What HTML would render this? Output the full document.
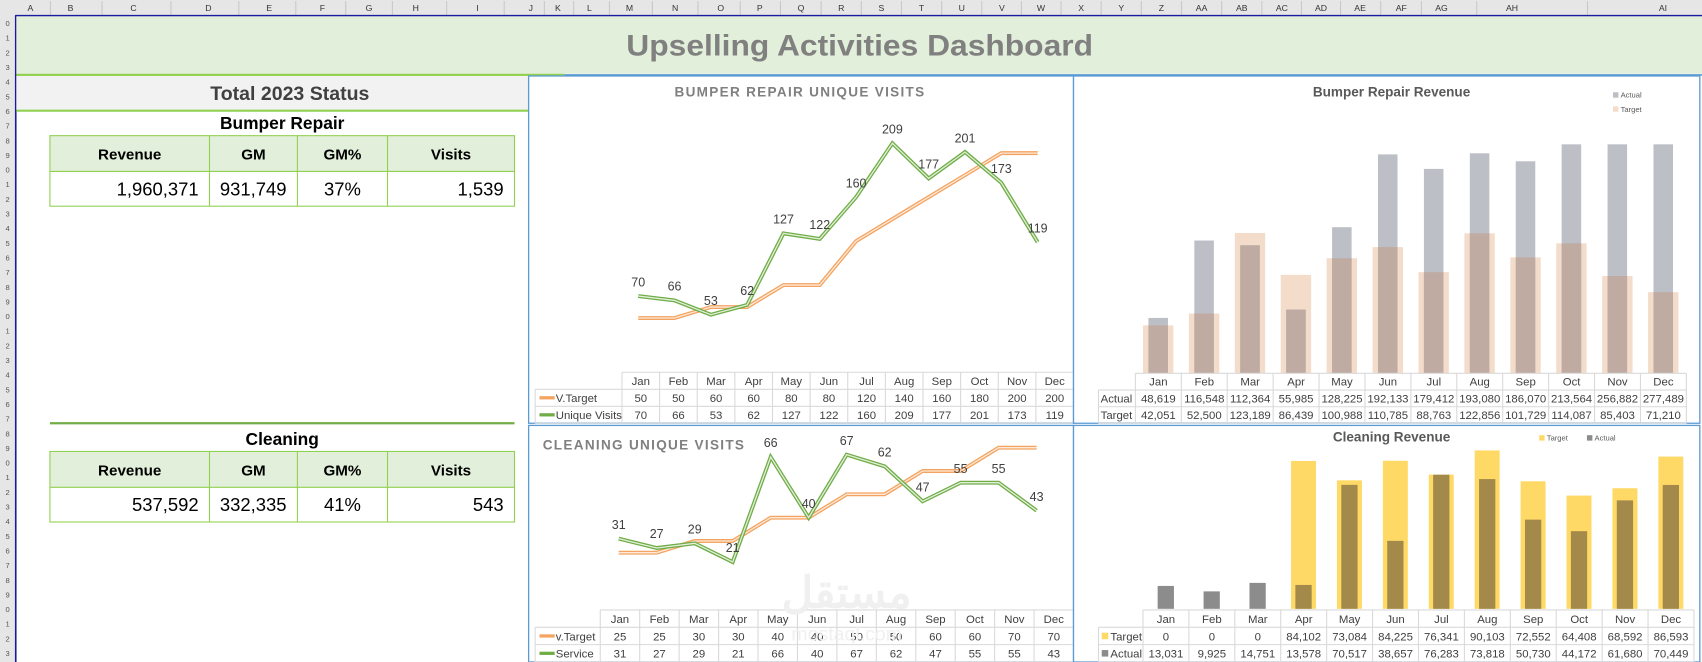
<!DOCTYPE html>
<html><head><meta charset="utf-8">
<style>
html,body{margin:0;padding:0;background:#fff;overflow:hidden;width:1702px;height:662px}
#stage{position:absolute;left:0;top:0;width:1568px;height:610px;transform:scale(1.08546,1.08525);transform-origin:0 0;font-family:"Liberation Sans",sans-serif}
.abs{position:absolute}
svg text{font-family:"Liberation Sans",sans-serif}
</style></head>
<body>
<div id="stage">
<svg id="sv" width="1568" height="610" class="abs" style="left:0;top:0"></svg>
</div>
<script>
// ---- Data ----
const months = ["Jan","Feb","Mar","Apr","May","Jun","Jul","Aug","Sep","Oct","Nov","Dec"];
const brVisitTarget = [50,50,60,60,80,80,120,140,160,180,200,200];
const brVisits = [70,66,53,62,127,122,160,209,177,201,173,119];
const clVisitTarget = [25,25,30,30,40,40,50,50,60,60,70,70];
const clVisits = [31,27,29,21,66,40,67,62,47,55,55,43];
const brRevActual = [48619,116548,112364,55985,128225,192133,179412,193080,186070,213564,256882,277489];
const brRevTarget = [42051,52500,123189,86439,100988,110785,88763,122856,101729,114087,85403,71210];
const clRevTarget = [0,0,0,84102,73084,84225,76341,90103,72552,64408,68592,86593];
const clRevActual = [13031,9925,14751,13578,70517,38657,76283,73818,50730,44172,61680,70449];
const colLetters = ["A","B","C","D","E","F","G","H","I","J","K","L","M","N","O","P","Q","R","S","T","U","V","W","X","Y","Z","AA","AB","AC","AD","AE","AF","AG","AH","AI"];

const NS="http://www.w3.org/2000/svg";
const sv=document.getElementById('sv');
function mk(tag,attrs,parent,name,inter){const e=document.createElementNS(NS,tag);for(const k in attrs)e.setAttribute(k,attrs[k]);(parent||sv).appendChild(e);


return e;}
function tx(x,y,s,opt,parent,name){opt=opt||{};const e=mk('text',{x:x,y:y,'font-size':opt.size||11,fill:opt.fill||'#404040','text-anchor':opt.anchor||'middle','font-weight':opt.weight||'normal','font-family':opt.family||'"Liberation Sans",sans-serif'},parent,name||'label');if(opt.ls)e.setAttribute('letter-spacing',opt.ls);e.textContent=s;return e;}
function fmt(n){return n.toLocaleString('en-US');}

// ---- Sheet headers ----
mk('rect',{x:0,y:0,width:1568,height:14,fill:'#e6e6e6'},sv,'column-header-bar');
mk('rect',{x:0,y:0,width:14,height:610,fill:'#e6e6e6'},sv,'row-header-bar');
const colCenters=[28,65,123,192,248,297,340,383,440,489,514,543,580,622,664,700,738,775,812,849,886,923,959,996,1033,1070,1107,1144,1181,1217,1253,1291,1328,1393,1532];
for(let i=0;i<colLetters.length;i++){
  tx(colCenters[i],10,colLetters[i],{size:8,fill:'#333'},sv,'column-header-'+colLetters[i]);
  if(i<colLetters.length-1){const b=(colCenters[i]+colCenters[i+1])/2;mk('line',{x1:b,y1:1,x2:b,y2:14,stroke:'#c8c8c8'},sv,'column-divider');}
}
for(let r=0;r<44;r++){const y=24+r*13.5;tx(7,y,String((r%10)),{size:7,fill:'#555'},sv,'row-number');}
mk('line',{x1:14,y1:14.5,x2:1568,y2:14.5,stroke:'#1a1aa0','stroke-width':1.5},sv,'selection-border-top');
mk('line',{x1:14.5,y1:14,x2:14.5,y2:610,stroke:'#1a1aa0','stroke-width':1.5},sv,'selection-border-left');

// ---- Title band ----
mk('rect',{x:15,y:15,width:1553,height:53,fill:'#e2efda'},sv,'title-band');
mk('line',{x1:15,y1:69,x2:520,y2:69,stroke:'#92d050','stroke-width':2},sv,'title-underline');
mk('line',{x1:520,y1:69,x2:1568,y2:69,stroke:'#5b9bd5','stroke-width':1.5},sv,'title-underline-blue');
const tt=tx(792,51,'Upselling Activities Dashboard',{size:27,weight:'bold',fill:'#808080'},sv,'dashboard-title');
tt.setAttribute('textLength','430');tt.setAttribute('lengthAdjust','spacingAndGlyphs');

// ---- Left panel ----
mk('rect',{x:15,y:70,width:472,height:31,fill:'#f2f2f2'},sv,'status-band');
mk('line',{x1:15,y1:102,x2:487,y2:102,stroke:'#92d050','stroke-width':2},sv,'status-underline');
tx(267,92,'Total 2023 Status',{size:18,weight:'bold',fill:'#404040',family:'"Liberation Serif",serif'},sv,'status-title');

function kpiTable(y0,title,vals,name){
  tx(260,y0-6,title,{size:16,weight:'bold',fill:'#000'},sv,name+'-title');
  const xs=[46,193,274,357,474];const heads=['Revenue','GM','GM%','Visits'];
  mk('rect',{x:46,y:y0,width:428,height:33,fill:'#e2efda'},sv,name+'-header-row');
  mk('rect',{x:46,y:y0,width:428,height:65,fill:'none',stroke:'#92d050','stroke-width':1},sv,name+'-table-border');
  mk('line',{x1:46,y1:y0+33,x2:474,y2:y0+33,stroke:'#92d050'},sv,name+'-row-divider');
  for(let i=0;i<4;i++){
    if(i>0)mk('line',{x1:xs[i],y1:y0,x2:xs[i],y2:y0+65,stroke:'#92d050'},sv,name+'-col-divider');
    tx((xs[i]+xs[i+1])/2,y0+22,heads[i],{size:14,weight:'bold',fill:'#000'},sv,name+'-header-'+heads[i].toLowerCase().replace('%','-pct'));
    const anchor=i==2?'middle':'end';const x=i==2?(xs[i]+xs[i+1])/2:xs[i+1]-10;
    tx(x,y0+55,vals[i],{size:17,fill:'#000',anchor:anchor},sv,name+'-value-'+heads[i].toLowerCase().replace('%','-pct'));
  }
}
kpiTable(125,'Bumper Repair',['1,960,371','931,749','37%','1,539'],'bumper-kpi');
mk('line',{x1:46,y1:390,x2:474,y2:390,stroke:'#70ad47','stroke-width':2},sv,'cleaning-separator');
kpiTable(416,'Cleaning',['537,592','332,335','41%','543'],'cleaning-kpi');

// ---- Line charts ----
function lineChart(o){
  const g=mk('g',{},sv,o.name);
  mk('rect',{x:o.x0,y:o.y0,width:o.w,height:o.h,fill:'#fff',stroke:'#5b9bd5','stroke-width':1.2},g,o.name+'-frame');
  tx(o.titleX,o.titleY,o.title,{size:12.5,weight:'bold',fill:'#808080',anchor:o.titleAnchor,ls:'1.2'},g,o.name+'-title');
  const X=i=>o.px0+i*o.pstep;const Y=v=>o.base-v*o.slope;
  function series(vals,outer,inner,nm){
    const d=vals.map((v,i)=>(i?'L':'M')+X(i)+','+Y(v)).join(' ');
    mk('path',{d:d,fill:'none',stroke:outer,'stroke-width':3.6,'stroke-linejoin':'miter'},g,nm+'-line');
    mk('path',{d:d,fill:'none',stroke:inner,'stroke-width':1.2},g,nm+'-line-inner');
  }
  series(o.t,'#f4a460','#fde9d9',o.name+'-target');
  series(o.a,'#70ad47','#e2efda',o.name+'-actual');
  o.a.forEach((v,i)=>tx(X(i),Y(v)-9,String(v),{size:11.5,fill:'#404040'},g,o.name+'-data-label'));
  const tx0=o.tabX, cw=(o.x0+o.w-o.tabX)/12, ty=o.tabY, rh=o.rowH;
  const grid='#d9d9d9';
  mk('line',{x1:tx0,y1:ty,x2:o.x0+o.w,y2:ty,stroke:grid},g,'table-grid');
  for(let r=1;r<=3;r++)mk('line',{x1:o.x0+6,y1:ty+r*rh,x2:o.x0+o.w,y2:ty+r*rh,stroke:grid},g,'table-grid');
  mk('line',{x1:o.x0+6,y1:ty+rh,x2:o.x0+6,y2:ty+3*rh,stroke:grid},g,'table-grid');
  for(let c=0;c<=12;c++)mk('line',{x1:tx0+c*cw,y1:ty,x2:tx0+c*cw,y2:ty+3*rh,stroke:grid},g,'table-grid');
  months.forEach((m,i)=>{
    tx(tx0+(i+.5)*cw,ty+rh-4,m,{size:10.5},g,o.name+'-month-'+m.toLowerCase());
    tx(tx0+(i+.5)*cw,ty+2*rh-4,String(o.t[i]),{size:10.5},g,o.name+'-target-value');
    tx(tx0+(i+.5)*cw,ty+3*rh-4,String(o.a[i]),{size:10.5},g,o.name+'-actual-value');
  });
  const lx=o.x0+10;
  mk('line',{x1:lx,y1:ty+1.5*rh,x2:lx+14,y2:ty+1.5*rh,stroke:'#f4a460','stroke-width':3},g,o.name+'-legend-target-key');
  mk('line',{x1:lx,y1:ty+2.5*rh,x2:lx+14,y2:ty+2.5*rh,stroke:'#70ad47','stroke-width':3},g,o.name+'-legend-actual-key');
  tx(lx+15,ty+2*rh-4,o.tLabel,{size:10.5,anchor:'start'},g,o.name+'-legend-target');
  tx(lx+15,ty+3*rh-4,o.aLabel,{size:10.5,anchor:'start'},g,o.name+'-legend-actual');
}
lineChart({name:'bumper-visits-chart',x0:487,y0:70,w:502,h:320,title:'BUMPER REPAIR UNIQUE VISITS',titleX:737,titleY:89,titleAnchor:'middle',
  px0:588,pstep:33.45,base:343.7,slope:1.013,t:brVisitTarget,a:brVisits,tabX:573,tabY:343,rowH:15.7,tLabel:'V.Target',aLabel:'Unique Visits'});
lineChart({name:'cleaning-visits-chart',x0:487,y0:392,w:502,h:218,title:'CLEANING UNIQUE VISITS',titleX:500,titleY:414,titleAnchor:'start',
  px0:570,pstep:35,base:563,slope:2.15,t:clVisitTarget,a:clVisits,tabX:553,tabY:562,rowH:16,tLabel:'v.Target',aLabel:'Service'});
tx(780,560,'مستقل',{size:40,weight:'bold',fill:'#f0f0f0',family:'"DejaVu Sans",sans-serif'},sv,'watermark');
tx(780,590,'mostaql.com',{size:18,fill:'#f0f0f0'},sv,'watermark-url');

// ---- Bar charts ----
function barChart(o){
  const g=mk('g',{},sv,o.name);
  mk('rect',{x:o.x0,y:o.y0,width:o.w,height:o.h,fill:'#fff',stroke:'#5b9bd5','stroke-width':1.2},g,o.name+'-frame');
  tx(1282,o.titleY,o.title,{size:12.5,weight:'bold',fill:'#595959'},g,o.name+'-title');
  const X=i=>o.px0+i*o.pstep;const Y=v=>Math.max(o.top,o.base-v*o.slope);
  for(let i=0;i<12;i++){
    const t=o.t[i],a=o.a[i];
    const tw=o.tw,aw=o.aw;
    if(t>0)mk('rect',{x:X(i)-tw/2,y:Y(t),width:tw,height:o.base-Y(t),fill:o.tCol},g,o.name+'-target-bar-'+months[i].toLowerCase());
    const noT=t<=0;
    mk('rect',{x:X(i)-aw/2,y:Y(a),width:aw,height:o.base-Y(a),fill:noT?o.aSolo:o.aCol},g,o.name+'-actual-bar-'+months[i].toLowerCase());
    if(o.overlap&&t>0){const yo=Math.max(Y(a),Y(t));mk('rect',{x:X(i)-aw/2,y:yo,width:aw,height:o.base-yo,fill:o.overlap},g,o.name+'-overlap-'+months[i].toLowerCase());}
  }
  const tx0=o.tabX,cw=o.pstep,ty=o.tabY,rh=o.rowH,grid='#d9d9d9';
  mk('line',{x1:tx0,y1:ty,x2:tx0+12*cw,y2:ty,stroke:grid},g,'table-grid');
  for(let r=1;r<=3;r++)mk('line',{x1:o.labX,y1:ty+r*rh,x2:tx0+12*cw,y2:ty+r*rh,stroke:grid},g,'table-grid');
  mk('line',{x1:o.labX,y1:ty+rh,x2:o.labX,y2:ty+3*rh,stroke:grid},g,'table-grid');
  for(let c=0;c<=12;c++)mk('line',{x1:tx0+c*cw,y1:ty,x2:tx0+c*cw,y2:ty+3*rh,stroke:grid},g,'table-grid');
  months.forEach((m,i)=>{
    tx(tx0+(i+.5)*cw,ty+rh-4,m,{size:10.5},g,o.name+'-month-'+m.toLowerCase());
    tx(tx0+(i+.5)*cw,ty+2*rh-4,fmt(o.row1[i]),{size:10.5},g,o.name+'-row1-value');
    tx(tx0+(i+.5)*cw,ty+3*rh-4,fmt(o.row2[i]),{size:10.5},g,o.name+'-row2-value');
  });
  if(o.keys){
    mk('rect',{x:o.labX+3,y:ty+rh+5,width:6,height:6,fill:o.k1},g,o.name+'-table-key-1');
    mk('rect',{x:o.labX+3,y:ty+2*rh+5,width:6,height:6,fill:o.k2},g,o.name+'-table-key-2');
  }
  tx(o.labX+(o.keys?11:2),ty+2*rh-4,o.r1Label,{size:10.5,anchor:'start'},g,o.name+'-row1-label');
  tx(o.labX+(o.keys?11:2),ty+3*rh-4,o.r2Label,{size:10.5,anchor:'start'},g,o.name+'-row2-label');
  o.legend.forEach(l=>{mk('rect',{x:l.x,y:l.y-5,width:5,height:5,fill:l.c},g,o.name+'-legend-key');tx(l.x+7,l.y,l.t,{size:7,anchor:'start',fill:'#595959'},g,o.name+'-legend-'+l.t.toLowerCase());});
}
barChart({name:'bumper-revenue-chart',x0:989,y0:70,w:577,h:320,title:'Bumper Repair Revenue',titleY:89,
  px0:1067,pstep:42.3,base:344,slope:0.00105,top:133,t:brRevTarget,a:brRevActual,tw:28,aw:18,
  tCol:'#f4dccb',aCol:'#bcbfc6',aSolo:'#bcbfc6',overlap:'#bfaba2',
  tabX:1046,tabY:344,rowH:15.4,labX:1012,row1:brRevActual,row2:brRevTarget,r1Label:'Actual',r2Label:'Target',keys:false,
  legend:[{x:1486,y:90,c:'#bcbfc6',t:'Actual'},{x:1486,y:103,c:'#f4dccb',t:'Target'}]});
barChart({name:'cleaning-revenue-chart',x0:989,y0:392,w:577,h:218,title:'Cleaning Revenue',titleY:407,
  px0:1074,pstep:42.3,base:561,slope:0.00162,top:400,t:clRevTarget,a:clRevActual,tw:23,aw:15,
  tCol:'#ffd966',aCol:'#a38a4a',aSolo:'#8c8c8c',overlap:null,
  tabX:1053,tabY:562,rowH:16,labX:1012,row1:clRevTarget,row2:clRevActual,r1Label:'Target',r2Label:'Actual',keys:true,k1:'#ffd966',k2:'#8c8c8c',
  legend:[{x:1418,y:406,c:'#ffd966',t:'Target'},{x:1462,y:406,c:'#8c8c8c',t:'Actual'}]});
</script>
</body></html>
